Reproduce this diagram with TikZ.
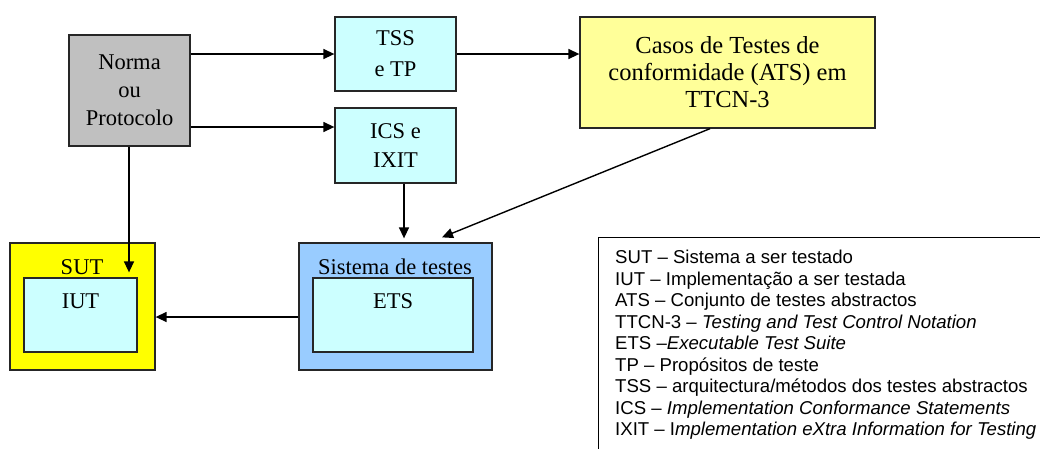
\documentclass[tikz,border=0pt]{standalone}
\usepackage{fontspec}
\setmainfont{Liberation Serif}
\setsansfont{Liberation Sans}
\usetikzlibrary{arrows.meta}
\definecolor{cgray}{HTML}{C0C0C0}
\definecolor{ccyan}{HTML}{CCFFFF}
\definecolor{cly}{HTML}{FFFF99}
\definecolor{cyel}{HTML}{FFFF00}
\definecolor{cblue}{HTML}{99CCFF}
\tikzset{
  box/.style={draw=black!85, line width=1.3pt, rectangle, inner sep=0pt, align=center},
  arr/.style={line width=1.4pt, -{Triangle[length=11pt,width=10pt]}},
  lbl/.style={inner sep=0pt, font=\fontsize{22.5}{28}\selectfont}
}
\begin{document}
\begin{tikzpicture}[x=1pt,y=-1pt]
\useasboundingbox (0,0) rectangle (1040,448);
% boxes
\node[box, fill=cgray, minimum width=121pt, minimum height=111pt,
      font=\fontsize{22.5}{28}\selectfont] (norma) at (129.5,90.5) {Norma\\ou\\Protocolo};
\node[box, fill=ccyan, minimum width=121pt, minimum height=74pt,
      font=\fontsize{22.5}{31}\selectfont] (tss) at (395.5,54) {TSS\\e TP};
\node[box, fill=ccyan, minimum width=121pt, minimum height=75pt,
      font=\fontsize{22.5}{29}\selectfont] (ics) at (395.5,145.5) {ICS e\\IXIT};
\node[box, fill=cly, minimum width=295pt, minimum height=111pt,
      font=\fontsize{24.5}{27}\selectfont] (casos) at (727.5,72.5) {Casos de Testes de\\conformidade (ATS) em\\TTCN-3};
\node[box, fill=cyel, minimum width=145pt, minimum height=127pt] (sut) at (82.5,306.5) {};
\node[box, fill=ccyan, minimum width=113pt, minimum height=74pt] (iut) at (80.5,315) {};
\node[lbl] (sutlbl) at (82,267) {SUT};
\node[lbl] (iutlbl) at (80.5,301) {IUT};
\node[box, fill=cblue, minimum width=193pt, minimum height=127pt] (sis) at (395.5,306.5) {};
\node[box, fill=ccyan, minimum width=160pt, minimum height=74pt] (ets) at (393,315) {};
\node[lbl] (sislbl) at (395,267) {Sistema de testes};
\node[lbl] (etslbl) at (393,301) {ETS};
% legend
\node[draw=black, line width=0.9pt, rectangle, inner sep=0pt, minimum width=460pt,
      minimum height=230pt, anchor=north west] (legbox) at (598,237) {};
\node[anchor=north west, inner sep=0pt, align=left,
      font=\sffamily\fontsize{18.6}{21.5}\selectfont] (legend) at (615,250)
{SUT -- Sistema a ser testado\\
IUT -- Implementação a ser testada\\
ATS -- Conjunto de testes abstractos\\
TTCN-3 -- \textit{Testing and Test Control Notation}\\
ETS --\textit{Executable Test Suite}\\
TP -- Propósitos de teste\\
TSS -- arquitectura/métodos dos testes abstractos\\
ICS -- \textit{Implementation Conformance Statements}\\
IXIT -- I\textit{mplementation eXtra Information for Testing}};
% connectors
\draw[arr] (norma.east |- tss.west) -- (tss.west);
\draw[arr] (norma.east |- 0,127) -- (ics.west |- 0,127);
\draw[arr] (tss.east) -- (tss.east -| casos.west);
\draw[arr] ([xshift=-0.5pt]norma.south) -- ([xshift=-0.5pt,yshift=5pt]norma.south |- iut.north);
\draw[arr] ([xshift=8.5pt]ics.south) -- ([xshift=8.5pt,yshift=4pt]ics.south |- sis.north);
\draw[arr] ([xshift=-17.5pt]casos.south) -- ([xshift=46.5pt,yshift=5pt]sis.north);
\draw[arr] ([yshift=-10.5pt]sis.west) -- ([yshift=-10.5pt]sis.west -| sut.east);
\end{tikzpicture}
\end{document}
